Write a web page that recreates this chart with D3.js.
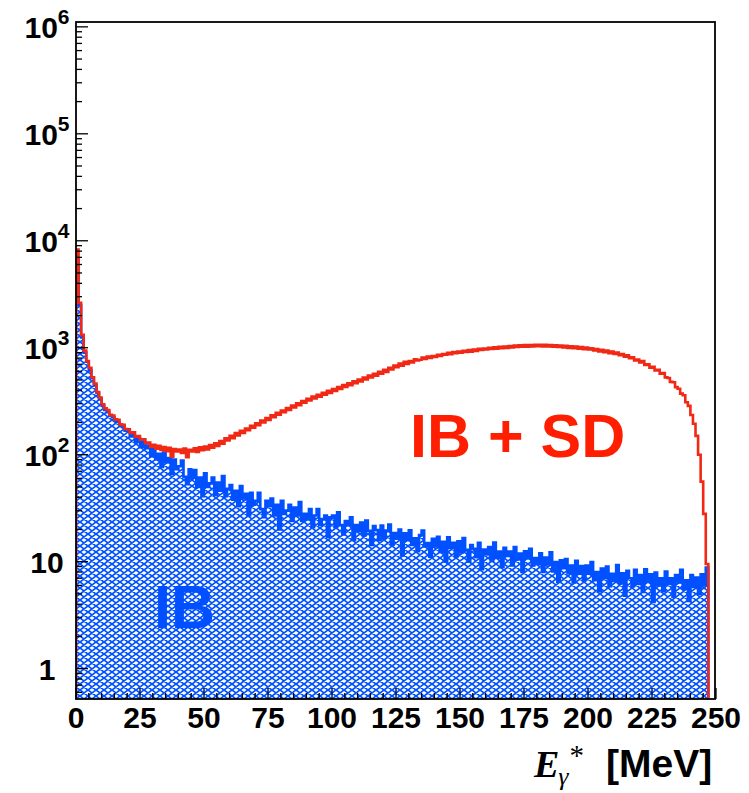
<!DOCTYPE html>
<html><head><meta charset="utf-8">
<script src="https://cdn.jsdelivr.net/npm/d3@7"></script>
<style>body{margin:0;background:#fff} svg{display:block}</style>
</head><body>
<script>
// ---- data ----
const binWidth = 1; // MeV per bin, bins start at 0
const ibValues = [
 7000, 2500, 1250, 900, 740, 620, 525, 445, 380, 330,
 290, 262, 250, 232, 224, 208, 202, 186, 182, 168,
 173, 148, 162, 132, 142, 118, 139, 115, 122, 97,
 118, 91, 102, 77, 105, 85, 93, 66, 90, 73,
 78, 88, 62, 53, 73, 61, 72, 50, 61, 41,
 67, 50, 54, 61, 42, 55, 46, 63, 41, 48,
 52, 38, 46, 33, 51, 39, 43, 27, 44, 34,
 37, 44, 31, 26, 37, 33, 39, 27, 34, 20,
 37, 28, 30, 34, 24, 32, 27, 36, 24, 28,
 25, 31, 21, 27, 31, 22, 25, 27, 17, 26,
 27, 21, 29, 22, 18, 24, 22, 26, 16, 22,
 19.3, 23.2, 17.6, 24.2, 19.4, 14.3, 21.5, 19.7, 16.0, 21.8,
 16.7, 19.5, 22.2, 14.4, 18.5, 16.4, 20.0, 11.4, 18.4, 16.0,
 19.6, 14.3, 16.5, 12.5, 17.7, 19.5, 13.9, 14.9, 11.1, 16.4,
 13.9, 17.1, 12.3, 15.3, 10.0, 16.9, 13.4, 15.0, 11.2, 15.5,
 12.2, 16.6, 12.9, 10.0, 14.3, 13.2, 11.0, 15.0, 8.5, 13.0,
 11.7, 13.7, 10.2, 15.1, 10.9, 12.4, 8.9, 13.5, 11.3, 12.4,
 9.2, 13.7, 10.5, 11.9, 8.0, 12.5, 10.8, 13.2, 9.2, 10.8,
 9.5, 12.0, 8.0, 10.9, 9.4, 12.2, 8.1, 9.9, 6.5, 10.3,
 8.7, 10.6, 7.8, 9.2, 6.4, 10.2, 7.7, 9.1, 6.7, 9.2,
 7.7, 9.9, 6.7, 8.0, 5.3, 8.6, 7.0, 9.0, 5.9, 7.7,
 6.6, 9.3, 6.3, 7.8, 4.8, 8.2, 7.0, 5.9, 8.4, 6.2,
 7.5, 5.2, 8.5, 6.5, 7.6, 4.2, 7.9, 6.0, 7.0, 5.3,
 8.1, 6.2, 7.0, 4.7, 7.5, 6.4, 8.4, 5.6, 6.7, 4.3,
 7.5, 5.8, 7.1, 5.0, 7.6, 6.0, 8.8
];
const ibsdValues = [
 8300, 2630, 1320, 940, 752, 650, 530, 462, 385, 342,
 296, 272, 262, 236, 232, 214, 212, 192, 190, 174,
 172, 160, 162, 147, 149, 138, 139, 128, 130, 119,
 124, 114, 121, 111, 118, 108, 116, 96, 113, 107,
 112, 104, 114, 95, 111, 107, 115, 106, 117, 110,
 119, 112, 123, 116, 128, 121, 134, 127, 142, 136,
 150, 143, 159, 151, 167, 160, 176, 169, 186, 179,
 197, 189, 209, 200, 220, 211, 233, 224, 246, 236,
 259, 249, 273, 262, 288, 276, 302, 290, 318, 306,
 334, 321, 349, 335, 364, 348, 379, 363, 395, 378,
 411, 394, 428, 411, 447, 429, 466, 447, 486, 466,
 505, 485, 526, 506, 549, 527, 572, 549, 597, 572,
 622, 595, 650, 626, 681, 656, 711, 681, 738, 706,
 752, 730, 779, 761, 772, 810, 786, 828, 804, 836,
 819, 858, 840, 875, 862, 896, 870, 909, 887, 921,
 898, 936, 912, 949, 920, 962, 935, 976, 951, 985,
 962, 998, 975, 1010, 981, 1022, 990, 1028, 998, 1035,
 1008, 1046, 1016, 1052, 1021, 1058, 1024, 1062, 1030, 1064,
 1032, 1068, 1030, 1065, 1028, 1060, 1022, 1055, 1015, 1048,
 1006, 1040, 998, 1031, 990, 1024, 979, 1014, 970, 1003,
 962, 990, 944, 973, 925, 955, 908, 939, 890, 921,
 877, 903, 851, 873, 826, 850, 799, 812, 762, 775,
 730, 752, 689, 699, 651, 662, 612, 622, 573, 580,
 528, 522, 480, 476, 428, 414, 372, 360, 309, 286,
 235, 195, 150, 100, 56, 28, 9.5
];
const xTicks = [0, 25, 50, 75, 100, 125, 150, 175, 200, 225, 250];
const yTicks = [1, 10, 100, 1e3, 1e4, 1e5, 1e6];
const yTickLabels = [["1", ""], ["10", ""], ["10", "2"], ["10", "3"], ["10", "4"], ["10", "5"], ["10", "6"]];

// ---- layout ----
const W = 749, H = 793;
const L = 76, T = 22, R = 715, B = 699;
const x = d3.scaleLinear().domain([0, 250]).range([L, 716]);
const y = d3.scaleLog().domain([0.52, 1.11e6]).range([B, T]);
const red = "#f02814", blue = "#0050ff";

const svg = d3.select("body").append("svg").attr("width", W).attr("height", H);
const defs = svg.append("defs");
const pat = defs.append("pattern").attr("id", "hatch").attr("patternUnits", "userSpaceOnUse")
  .attr("width", 8).attr("height", 6);
pat.append("path").attr("d", "M0,0L8,6M0,6L8,0M-1,5.25L1,6.75M7,-0.75L9,0.75M-1,0.75L1,-0.75M7,6.75L9,5.25")
  .attr("stroke", blue).attr("stroke-width", 1.7).attr("fill", "none");
defs.append("clipPath").attr("id", "clip").append("rect")
  .attr("x", L).attr("y", T).attr("width", R - L).attr("height", B - T);

function stepPath(vals) {
  const yv = v => y(Math.max(v, 0.3));
  let d = `M${x(0)},${B}`;
  vals.forEach((v, i) => {
    d += `L${x(i * binWidth)},${yv(v)}L${x((i + 1) * binWidth)},${yv(v)}`;
  });
  d += `L${x(vals.length * binWidth)},${B}`;
  return d;
}

const g = svg.append("g").attr("clip-path", "url(#clip)");
g.append("path").attr("d", stepPath(ibValues) + "Z").attr("fill", "url(#hatch)").attr("stroke", "none");
g.append("path").attr("d", stepPath(ibValues)).attr("fill", "none").attr("stroke", blue).attr("stroke-width", 2.6);
g.append("path").attr("d", stepPath(ibsdValues)).attr("fill", "none").attr("stroke", red).attr("stroke-width", 2.6);

// frame
svg.append("rect").attr("x", L).attr("y", T).attr("width", R - L).attr("height", B - T)
  .attr("fill", "none").attr("stroke", "#000").attr("stroke-width", 1.8);

// y ticks (log, major + minor)
const yMinor = y.ticks().filter(v => v >= 1 && v <= 1e6);
svg.append("g").selectAll("line").data(yMinor).join("line")
  .attr("x1", L).attr("x2", d => L + (yTicks.includes(d) ? 12 : 6))
  .attr("y1", d => y(d)).attr("y2", d => y(d)).attr("stroke", "#000").attr("stroke-width", 1.3);
svg.append("g").selectAll("line").data([0.6, 0.7, 0.8, 0.9]).join("line")
  .attr("x1", L).attr("x2", L + 6).attr("y1", d => y(d)).attr("y2", d => y(d))
  .attr("stroke", "#000").attr("stroke-width", 1.3);

// x ticks
const xMinor = d3.range(0, 251, 5);
svg.append("g").selectAll("line").data(xMinor).join("line")
  .attr("x1", d => x(d)).attr("x2", d => x(d))
  .attr("y1", B).attr("y2", d => B - (d % 25 === 0 ? 11 : 6)).attr("stroke", "#000").attr("stroke-width", 1.3);

const font = "'Liberation Sans', Arial, Helvetica, sans-serif";
svg.append("g").selectAll("text").data(xTicks).join("text")
  .attr("x", d => x(d)).attr("y", 728).attr("text-anchor", "middle")
  .attr("font-family", font).attr("font-weight", "bold").attr("font-size", 30).text(d => d);

const yl = svg.append("g").selectAll("text").data(yTicks).join("text")
  .attr("x", 47).attr("y", d => y(d) + 11).attr("text-anchor", "middle")
  .attr("font-family", font).attr("font-weight", "bold").attr("font-size", 30);
yl.each(function(d, i) {
  const t = d3.select(this);
  t.append("tspan").text(yTickLabels[i][0]);
  if (yTickLabels[i][1]) t.append("tspan").attr("dy", -14).attr("font-size", 21).text(yTickLabels[i][1]);
});

// axis title
const serif = "'Liberation Serif', 'Times New Roman', serif";
const title = svg.append("text").attr("x", 534).attr("y", 777);
title.append("tspan").attr("font-family", serif)
  .attr("font-style", "italic").attr("font-weight", "bold").attr("font-size", 38).text("E");
title.append("tspan").attr("font-family", serif)
  .attr("font-style", "italic").attr("font-size", 26).attr("dy", 8).attr("dx", -1).text("γ");
title.append("tspan").attr("font-family", serif)
  .attr("font-size", 29).attr("dy", -20).attr("dx", 1).text("*");
title.append("tspan").attr("font-family", font).attr("font-weight", "bold")
  .attr("font-size", 39).attr("dy", 12).attr("dx", 22).text("[MeV]");

// in-plot labels
svg.append("text").attr("x", 410).attr("y", 457).attr("font-family", font).attr("font-weight", "bold")
  .attr("font-size", 61).attr("fill", "#ff1e00").text("IB + SD");
svg.append("text").attr("x", 154).attr("y", 628).attr("font-family", font).attr("font-weight", "bold")
  .attr("font-size", 61).attr("fill", blue).text("IB");
</script>
</body></html>
